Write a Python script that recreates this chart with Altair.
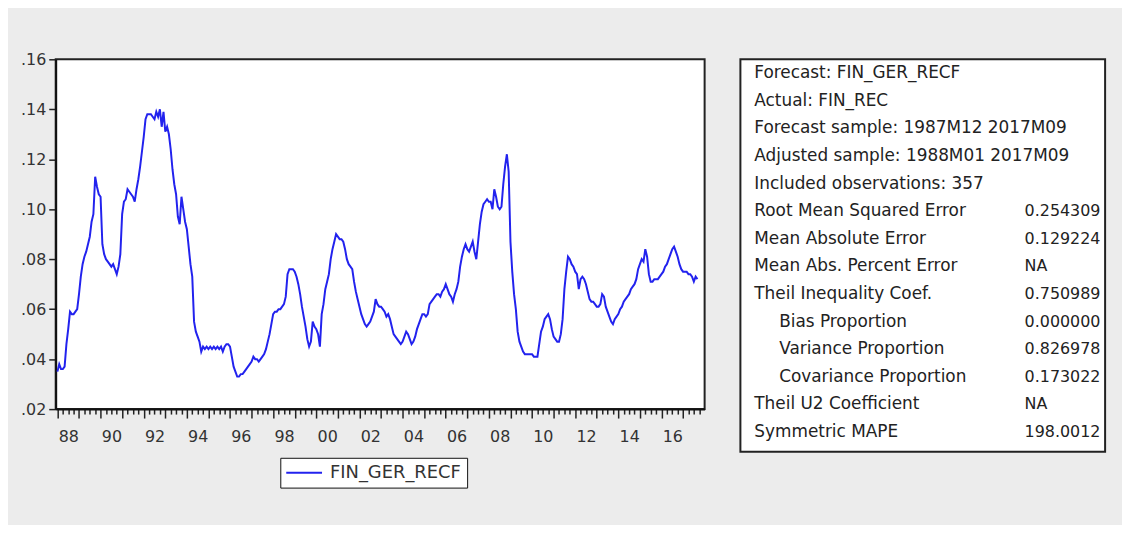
import altair as alt
import pandas as pd

# ---- monthly values of FIN_GER_RECF, 1988M01 .. 2017M09 ----
START_YEAR = 1988
v_1988_1992 = [
    0.035, 0.038, 0.036, 0.036, 0.037, 0.046, 0.052, 0.059, 0.058, 0.058, 0.059, 0.060,
    0.066, 0.073, 0.078, 0.081, 0.083, 0.086, 0.089, 0.095, 0.098, 0.113, 0.109, 0.106,
    0.105, 0.086, 0.082, 0.080, 0.079, 0.078, 0.077, 0.078, 0.076, 0.074, 0.077, 0.082,
    0.098, 0.103, 0.104, 0.108, 0.107, 0.106, 0.105, 0.103, 0.108, 0.112, 0.117, 0.123,
    0.129, 0.136, 0.138, 0.138, 0.138, 0.137, 0.136, 0.139, 0.137, 0.140, 0.133, 0.139,
]
v_1993_1997 = [
    0.131, 0.133, 0.130, 0.124, 0.116, 0.110, 0.106, 0.097, 0.094, 0.105, 0.100, 0.095,
    0.092, 0.085, 0.078, 0.073, 0.055, 0.051, 0.049, 0.047, 0.043, 0.045, 0.044, 0.045,
    0.044, 0.045, 0.044, 0.045, 0.044, 0.045, 0.044, 0.045, 0.043, 0.045, 0.046, 0.046,
    0.045, 0.041, 0.037, 0.035, 0.033, 0.033, 0.034, 0.034, 0.035, 0.036, 0.037, 0.038,
    0.039, 0.041, 0.040, 0.040, 0.039, 0.040, 0.041, 0.042, 0.044, 0.047, 0.050, 0.054,
]
v_1998_2002 = [
    0.058, 0.059, 0.059, 0.060, 0.060, 0.061, 0.062, 0.065, 0.074, 0.076, 0.076, 0.076,
    0.075, 0.073, 0.070, 0.066, 0.061, 0.057, 0.053, 0.048, 0.045, 0.047, 0.055, 0.053,
    0.052, 0.050, 0.045, 0.058, 0.062, 0.068, 0.071, 0.074, 0.080, 0.084, 0.087, 0.090,
    0.089, 0.088, 0.088, 0.087, 0.084, 0.080, 0.078, 0.077, 0.076, 0.071, 0.067, 0.064,
    0.061, 0.058, 0.056, 0.054, 0.053, 0.054, 0.055, 0.057, 0.059, 0.064, 0.062, 0.061,
]
v_2003_2007 = [
    0.061, 0.060, 0.059, 0.057, 0.058, 0.056, 0.053, 0.050, 0.049, 0.048, 0.047, 0.046,
    0.047, 0.049, 0.051, 0.050, 0.048, 0.046, 0.047, 0.049, 0.052, 0.054, 0.056, 0.058,
    0.058, 0.057, 0.058, 0.062, 0.063, 0.064, 0.065, 0.066, 0.066, 0.065, 0.067, 0.068,
    0.070, 0.068, 0.066, 0.065, 0.063, 0.066, 0.068, 0.071, 0.077, 0.081, 0.084, 0.086,
    0.084, 0.083, 0.085, 0.087, 0.083, 0.080, 0.087, 0.094, 0.099, 0.102, 0.103, 0.104,
]
v_2008_2012 = [
    0.103, 0.103, 0.100, 0.108, 0.105, 0.101, 0.100, 0.101, 0.110, 0.117, 0.122, 0.115,
    0.087, 0.075, 0.066, 0.060, 0.051, 0.047, 0.045, 0.043, 0.042, 0.042, 0.042, 0.042,
    0.042, 0.041, 0.041, 0.041, 0.046, 0.051, 0.053, 0.056, 0.057, 0.058, 0.056, 0.052,
    0.049, 0.048, 0.047, 0.047, 0.050, 0.056, 0.068, 0.075, 0.081, 0.080, 0.078, 0.077,
    0.075, 0.074, 0.068, 0.072, 0.073, 0.072, 0.070, 0.067, 0.064, 0.063, 0.063, 0.062,
]
v_2013_2017 = [
    0.061, 0.061, 0.062, 0.066, 0.065, 0.061, 0.059, 0.057, 0.055, 0.054, 0.056, 0.057,
    0.058, 0.060, 0.061, 0.063, 0.064, 0.065, 0.066, 0.068, 0.069, 0.070, 0.072, 0.076,
    0.078, 0.080, 0.079, 0.084, 0.081, 0.074, 0.071, 0.071, 0.072, 0.072, 0.072, 0.073,
    0.074, 0.075, 0.077, 0.078, 0.080, 0.082, 0.084, 0.085, 0.083, 0.081, 0.078, 0.076,
    0.075, 0.075, 0.075, 0.074, 0.074, 0.073, 0.071, 0.073, 0.072,
]
SERIES_NAME = "FIN_GER_RECF"

y_ticks = [0.02, 0.04, 0.06, 0.08, 0.10, 0.12, 0.14, 0.16]

# ---- forecast evaluation table ----
stat_labels = [
    "Forecast: FIN_GER_RECF",
    "Actual: FIN_REC",
    "Forecast sample: 1987M12 2017M09",
    "Adjusted sample: 1988M01 2017M09",
    "Included observations: 357",
    "Root Mean Squared Error",
    "Mean Absolute Error",
    "Mean Abs. Percent Error",
    "Theil Inequality Coef.",
    "Bias Proportion",
    "Variance Proportion",
    "Covariance Proportion",
    "Theil U2 Coefficient",
    "Symmetric MAPE",
]
stat_values = ["", "", "", "", "", "0.254309", "0.129224", "NA", "0.750989",
               "0.000000", "0.826978", "0.173022", "NA", "198.0012"]
stat_indent = [0, 0, 0, 0, 0, 0, 0, 0, 0, 1, 1, 1, 0, 0]

# ---- build tables ----
values = v_1988_1992 + v_1993_1997 + v_1998_2002 + v_2003_2007 + v_2008_2012 + v_2013_2017
df = pd.DataFrame({
    "t": [START_YEAR + i / 12 for i in range(len(values))],
    "v": values,
    "series": SERIES_NAME,
})
x_tick_values = [START_YEAR + q / 4 for q in range(0, 120)]

stats_df = pd.DataFrame({
    "row": list(range(len(stat_labels))),
    "label": stat_labels,
    "value": stat_values,
    "level": stat_indent,
})

FONT = "DejaVu Sans"
TXT = "#222222"

line = alt.Chart(df).mark_line(strokeWidth=2, clip=True).encode(
    x=alt.X(
        "t:Q",
        scale=alt.Scale(domain=[1987.92, 2018.0], nice=False, zero=False),
        axis=alt.Axis(
            title=None, grid=False, values=x_tick_values,
            labelExpr="(datum.value % 2 === 0) ? substring(toString(datum.value), 2, 4) : ''",
            labelOffset=10.9, labelFlush=False, labelOverlap=False,
            tickSize={"condition": {"test": "datum.value % 1 === 0", "value": 9}, "value": 5},
            tickColor="#222", tickWidth=1.5, domainColor="#111", domainWidth=2,
            labelFont=FONT, labelFontSize=16, labelColor="#333", labelPadding=11,
        ),
    ),
    y=alt.Y(
        "v:Q",
        scale=alt.Scale(domain=[0.02, 0.16], nice=False, zero=False),
        axis=alt.Axis(
            title=None, grid=False, values=y_ticks,
            labelExpr="replace(format(datum.value, '.2f'), '0.', '.')",
            tickSize=7, tickColor="#222", tickWidth=1.5, domainColor="#111", domainWidth=2,
            labelFont=FONT, labelFontSize=16, labelColor="#333", labelPadding=3,
            minExtent=47, maxExtent=47,
        ),
    ),
    color=alt.Color(
        "series:N",
        scale=alt.Scale(range=["#2222ee"]),
        legend=alt.Legend(
            title=None, orient="none", legendX=226, legendY=401,
            symbolType="M-3,0H3", symbolSize=144, symbolStrokeWidth=2,
            symbolOffset=9, labelOffset=17,
            labelFont=FONT, labelFontSize=18, labelColor="#333",
            strokeColor="#111", fillColor="white", padding=6,
        ),
    ),
).properties(width=653, height=352)

base = alt.Chart(stats_df)
ypos = alt.Y("row:Q", scale=alt.Scale(domain=[0, 13], range=[14, 375]), axis=None)
lab = base.mark_text(align="left", baseline="middle", font=FONT, fontSize=17, color=TXT).encode(
    x=alt.X("level:Q", scale=alt.Scale(domain=[0, 1], range=[14, 39]), axis=None),
    y=ypos,
    text="label:N",
)
val = base.mark_text(align="left", baseline="middle", font=FONT, fontSize=16, color=TXT).encode(
    x=alt.value(286),
    y=ypos,
    text="value:N",
)
stats = alt.layer(lab, val).properties(width=367, height=395)

chart = alt.hconcat(line, stats, spacing=28).properties(
    padding={"left": 0, "top": 41, "right": 16, "bottom": 35},
    background="#ececec",
).configure_view(fill="white", stroke="#222", strokeWidth=2)

chart.save("out.html", embed_options={"renderer": "svg", "actions": False})
